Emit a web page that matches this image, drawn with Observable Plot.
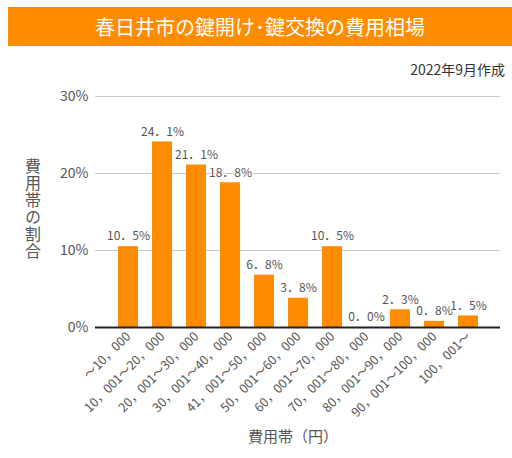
<!DOCTYPE html>
<html><head><meta charset="utf-8">
<script src="https://cdn.jsdelivr.net/npm/d3@7"></script>
<script src="https://cdn.jsdelivr.net/npm/@observablehq/plot@0.6"></script>
<style>
body{margin:0;background:#fff;font-family:"Noto Sans CJK JP","Noto Sans",sans-serif;}
#wrap{position:relative;width:512px;height:458px;overflow:hidden;}
#banner{position:absolute;left:8px;top:7px;width:504px;height:39px;background:#FF8C00;color:#fff;font-size:20px;line-height:39px;text-align:center;}
#sub{position:absolute;right:7px;top:59px;font-size:14px;color:#333;}
#ylab{position:absolute;left:21px;top:158px;writing-mode:vertical-rl;font-size:16px;color:#555;letter-spacing:1px;}
#xlab{position:absolute;left:0;width:586px;top:425px;text-align:center;font-size:15px;color:#555;}
#chart{position:absolute;left:0;top:0;}
</style></head>
<body><div id="wrap">
<div id="chart"></div>
<div id="banner">春日井市の鍵開け･鍵交換の費用相場</div>
<div id="sub">2022年9月作成</div>
<div id="ylab">費用帯の割合</div>
<div id="xlab">費用帯（円）</div>
</div>
<script>
const categories = ["～10，000","10，001～20，000","20，001～30，000","30，001～40，000","41，001～50，000","50，001～60，000","60，001～70，000","70，001～80，000","80，001～90，000","90，001～100，000","100，001～"];
const shares = [10.5, 24.1, 21.1, 18.8, 6.8, 3.8, 10.5, 0.0, 2.3, 0.8, 1.5];
const yTicks = [0, 10, 20, 30];
const data = categories.map((c, i) => ({cat: c, v: shares[i]}));
const fmt = v => v.toFixed(1).replace(".", "．") + "%";
const chart = Plot.plot({
  width: 512, height: 458,
  marginTop: 96, marginBottom: 131, marginLeft: 95, marginRight: 12,
  style: {fontFamily: '"Noto Sans CJK JP","Noto Sans",sans-serif', color: "#555", background: "transparent"},
  x: {domain: categories, paddingInner: 0.415, paddingOuter: 0.63, label: null, tickSize: 0, tickRotate: -45, tickPadding: 7},
  y: {domain: [0, 30], ticks: yTicks, tickFormat: d => d + "%", label: null, tickSize: 0, tickPadding: 7},
  marks: [
    Plot.gridY(yTicks, {stroke: "#c8c8c8", strokeOpacity: 1}),
    Plot.barY(data, {x: "cat", y: "v", fill: "#FF8C00"}),
    Plot.ruleY([0], {stroke: "#222", strokeWidth: 2}),
    Plot.text(data, {x: "cat", y: "v", text: d => fmt(d.v), dy: -10, fill: "#555", stroke: "white", strokeWidth: 2.5, fontSize: 12})
  ]
});
chart.querySelectorAll("[aria-label='y-axis tick label'] text").forEach(t => t.style.fontSize = "14px");
chart.querySelectorAll("[aria-label='x-axis tick label'] text").forEach(t => t.style.fontSize = "12.5px");
document.getElementById("chart").appendChild(chart);
</script>
</body></html>
